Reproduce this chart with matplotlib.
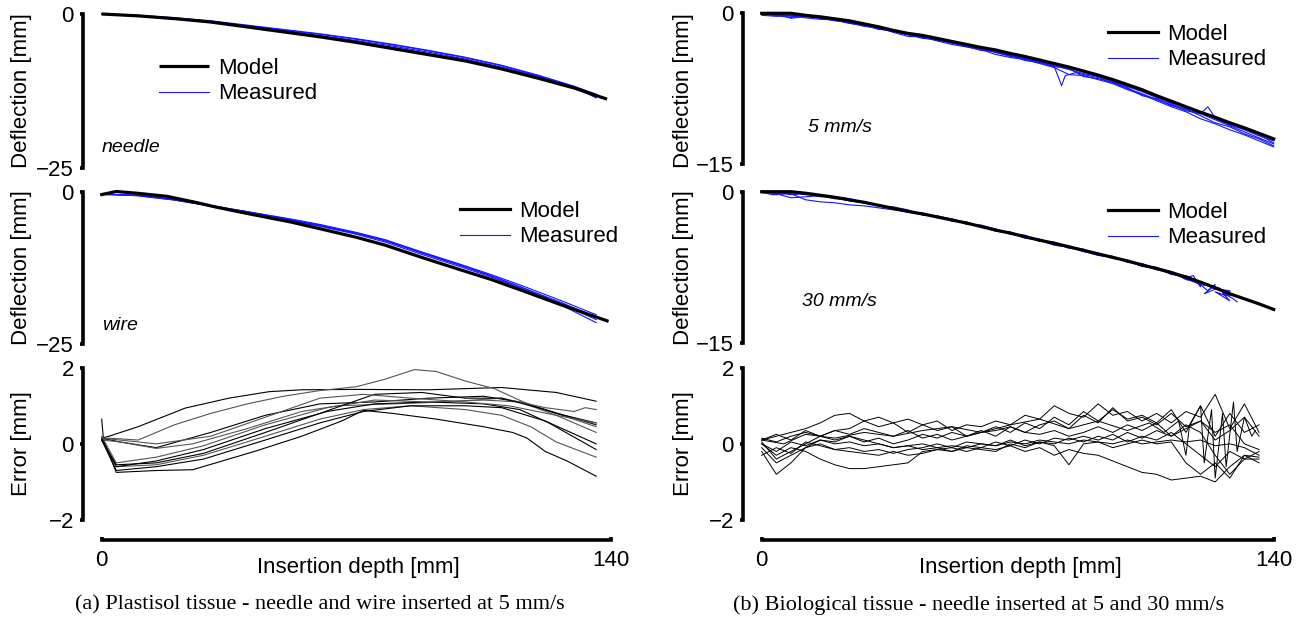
import numpy as np
import matplotlib
matplotlib.use("Agg")
import matplotlib.pyplot as plt

plt.rcParams["font.family"] = ["Liberation Sans", "DejaVu Sans"]

# ---------------------------------------------------------------
# data
# ---------------------------------------------------------------
# (a) plastisol, needle -- deflection [mm]
needle_model_x = [0, 10, 20, 30, 40, 50, 60, 70, 80, 90, 100, 110, 120, 130, 139]
needle_model_y = [0, -0.3, -0.75, -1.3, -2.1, -2.9, -3.7, -4.6, -5.6, -6.6, -7.6, -8.9, -10.4, -12.0, -13.8]
needle_meas_x = [0, 10, 20, 30, 40, 50, 60, 70, 80, 90, 100, 110, 120, 130, 136]
needle_meas_1 = [0, -0.2, -0.6, -1.1, -1.8, -2.5, -3.2, -4.0, -4.9, -5.9, -7.0, -8.3, -9.9, -11.7, -13.0]
needle_meas_2 = [0, -0.35, -0.8, -1.3, -2.0, -2.7, -3.5, -4.3, -5.2, -6.2, -7.3, -8.6, -10.1, -11.9, -13.3]
needle_meas_3 = [0, -0.3, -0.7, -1.2, -1.9, -2.6, -3.3, -4.1, -5.0, -6.0, -7.1, -8.4, -10.0, -11.8, -13.6]
needle_meas_4 = [0, -0.3, -0.75, -1.25, -2.0, -2.8, -3.6, -4.5, -5.4, -6.4, -7.5, -8.8, -10.3, -12.0, -13.5]

# (a) plastisol, wire -- deflection [mm]
wire_model_x = [0, 4, 10, 18, 26, 31, 40, 52, 60, 70, 78, 88, 99, 107, 115, 126, 139]
wire_model_y = [-0.5, 0, -0.3, -0.8, -1.8, -2.5, -3.6, -5.0, -6.1, -7.5, -8.8, -10.8, -12.9, -14.4, -16.1, -18.5, -21.2]
wire_meas_x = [0, 10, 20, 30, 40, 52, 60, 70, 78, 88, 99, 107, 115, 126, 136]
wire_meas_1 = [-0.5, -0.6, -1.3, -2.3, -3.3, -4.5, -5.4, -6.7, -7.9, -9.9, -12.0, -13.6, -15.3, -17.8, -20.2]
wire_meas_2 = [-0.4, -0.7, -1.4, -2.4, -3.4, -4.7, -5.6, -6.9, -8.1, -10.1, -12.2, -13.8, -15.6, -18.1, -20.6]
wire_meas_3 = [-0.5, -0.6, -1.3, -2.3, -3.3, -4.6, -5.5, -6.8, -8.0, -10.0, -12.1, -13.8, -15.6, -18.3, -21.0]
wire_meas_4 = [-0.4, -0.7, -1.4, -2.4, -3.5, -4.8, -5.7, -7.0, -8.3, -10.3, -12.4, -14.0, -15.8, -18.5, -21.5]

# (a) plastisol -- error [mm]
plast_err = [
    ([0, 2, 10, 23, 35, 46, 55, 70, 90, 110, 125, 136],
     [0.15, 0.2, 0.45, 0.94, 1.2, 1.37, 1.42, 1.43, 1.42, 1.48, 1.35, 1.12]),
    ([0, 2, 10, 20, 30, 40, 50, 60, 70, 78, 86, 92, 100, 108, 116, 125, 136],
     [0.1, 0.15, 0.1, 0.5, 0.8, 1.05, 1.25, 1.4, 1.5, 1.7, 1.95, 1.9, 1.65, 1.45, 1.1, 0.8, 0.45]),
    ([0, 5, 15, 30, 45, 60, 75, 90, 105, 115, 125, 136],
     [0.15, 0.05, -0.1, 0.3, 0.75, 1.05, 1.1, 1.2, 1.25, 1.1, 0.8, 0.55]),
    ([0, 5, 15, 25, 40, 55, 65, 80, 95, 110, 122, 130, 133, 136],
     [0.1, 0.05, -0.12, 0.0, 0.4, 0.85, 1.0, 1.05, 1.1, 1.2, 0.95, 0.85, 0.95, 0.9]),
    ([0, 0.5, 4, 15, 25, 42, 55, 66, 72, 80, 92, 105, 113, 117, 122, 128, 136],
     [0.65, 0.1, -0.75, -0.7, -0.68, -0.2, 0.2, 0.6, 0.88, 0.8, 0.65, 0.45, 0.3, 0.15, -0.2, -0.45, -0.85]),
    ([0, 4, 15, 28, 45, 60, 72, 85, 100, 110, 118, 125, 136],
     [0.1, -0.6, -0.55, -0.3, 0.2, 0.65, 0.9, 1.0, 0.9, 0.75, 0.45, 0.05, -0.35]),
    ([0, 4, 15, 28, 45, 62, 75, 90, 105, 115, 123, 136],
     [0.15, -0.6, -0.45, -0.15, 0.4, 0.85, 1.05, 1.1, 1.05, 0.9, 0.55, -0.15]),
    ([0, 4, 15, 28, 45, 62, 75, 90, 105, 115, 125, 136],
     [0.2, -0.5, -0.35, -0.05, 0.5, 0.95, 1.15, 1.1, 1.15, 1.1, 0.75, 0.3]),
    ([0, 4, 15, 28, 45, 60, 75, 88, 100, 110, 122, 136],
     [0.1, -0.55, -0.5, -0.25, 0.3, 0.8, 1.3, 1.35, 1.2, 1.2, 0.9, 0.5]),
    ([0, 5, 15, 30, 45, 60, 72, 85, 100, 112, 125, 136],
     [0.15, 0.1, 0.0, 0.2, 0.7, 1.2, 1.3, 1.2, 1.1, 1.0, 0.75, 0.55]),
    ([0, 4, 15, 28, 45, 60, 72, 85, 100, 110, 122, 136],
     [0.1, -0.7, -0.6, -0.4, 0.1, 0.55, 0.85, 1.0, 1.0, 0.95, 0.6, 0.0]),
]

# (b) biological -- sampling grid of depth [mm]
depth_140 = list(range(0, 141, 4))
depth_128 = list(range(0, 129, 4))
depth_136 = list(range(0, 137, 4))

# (b) 5 mm/s -- deflection [mm]
bio5_model = [0, 0, 0, -0.2, -0.35, -0.55, -0.75, -1.05, -1.35, -1.7, -2.0, -2.2, -2.5, -2.8, -3.1, -3.4,
              -3.65, -4.0, -4.3, -4.65, -5.0, -5.35, -5.75, -6.15, -6.6, -7.1, -7.6, -8.2, -8.75, -9.3,
              -9.85, -10.35, -10.9, -11.4, -11.95, -12.5]
bio5_meas_1 = [0.0, -0.1, -0.3, -0.35, -0.4, -0.7, -0.9, -1.1, -1.5, -1.8, -2.1, -2.4, -2.6, -3.0, -3.2, -3.5,
               -3.9, -4.2, -4.5, -4.8, -5.2, -5.6, -6.0, -6.3, -6.8, -7.3, -7.8, -8.4, -9.0, -9.6,
               -10.0, -10.6, -11.2, -11.8, -12.4, -13.0]
bio5_meas_2 = [-0.2, -0.3, -0.2, -0.45, -0.6, -0.65, -0.95, -1.3, -1.45, -1.9, -2.3, -2.35, -2.75, -3.1, -3.35, -3.6,
               -4.1, -4.4, -4.6, -5.0, -5.4, -6.1, -6.2, -6.6, -7.0, -7.6, -8.1, -8.7, -9.3, -9.8,
               -10.5, -11.0, -11.6, -12.1, -12.7, -13.3]
bio5_meas_3 = [-0.1, -0.05, -0.5, -0.3, -0.5, -0.55, -1.0, -1.2, -1.6, -1.7, -2.1, -2.5, -2.6, -2.9, -3.3, -3.7,
               -3.8, -4.2, -4.7, -4.9, -5.3, -5.5, -6.3, -6.5, -6.9, -7.4, -8.2, -8.5, -9.2, -9.5,
               -10.2, -10.9, -11.3, -12.0, -12.5, -13.2]
bio5_meas_4 = [0.0, -0.2, -0.2, -0.3, -0.45, -0.75, -0.85, -1.2, -1.4, -1.75, -2.0, -2.3, -2.55, -2.85, -3.15, -3.45,
               -3.75, -4.05, -4.45, -4.7, -5.15, -5.4, -5.85, -6.25, -6.7, -7.2, -7.7, -8.3, -8.9, -9.4,
               -9.8, -10.5, -11.1, -11.6, -12.2, -12.7]
bio5_meas_5_x = [0, 4, 8, 12, 16, 20, 24, 28, 32, 36, 40, 44, 48, 52, 56, 60, 64, 68, 72, 76, 80, 82, 83, 86, 88,
                 92, 96, 100, 104, 108, 112, 116, 120, 122, 124, 128, 132, 136, 140]
bio5_meas_5_y = [-0.1, -0.25, -0.4, -0.25, -0.5, -0.7, -1.0, -1.15, -1.55, -1.8, -2.15, -2.4, -2.7, -2.9, -3.3, -3.5,
                 -3.9, -4.3, -4.5, -4.9, -5.3, -7.2, -6.2, -5.9, -6.1, -6.4, -6.9, -7.5, -8.0, -8.6, -9.1, -9.7,
                 -10.0, -9.3, -10.4, -11.0, -11.5, -12.1, -12.9]

# (b) 30 mm/s -- deflection [mm]
bio30_model = [0, 0, 0, -0.15, -0.35, -0.55, -0.8, -1.05, -1.35, -1.65, -1.95, -2.2, -2.5, -2.8, -3.1, -3.45,
               -3.8, -4.1, -4.45, -4.8, -5.1, -5.45, -5.8, -6.15, -6.5, -6.85, -7.25, -7.6, -8.0, -8.45,
               -8.95, -9.5, -10.1, -10.6, -11.1, -11.65]
bio30_meas_1 = [0, -0.2, -0.6, -0.5, -0.4, -0.6, -0.9, -1.1, -1.3, -1.7, -2.0, -2.1, -2.6, -2.7, -3.2, -3.4, -3.9,
                -4.0, -4.5, -4.7, -5.2, -5.4, -5.9, -6.1, -6.6, -6.8, -7.4, -7.5, -8.1, -8.6, -9.2, -9.4, -10.3]
bio30_meas_2 = [0, -0.1, -0.2, -0.8, -1.0, -1.1, -1.3, -1.4, -1.6, -1.8, -2.0, -2.3, -2.4, -2.9, -3.0, -3.5, -3.7,
                -4.2, -4.4, -4.9, -5.0, -5.6, -5.7, -6.2, -6.4, -7.0, -7.1, -7.7, -7.9, -8.7, -9.0, -9.6, -9.9]
bio30_meas_3 = [-0.1, -0.3, -0.1, -0.2, -0.5, -0.5, -0.7, -1.1, -1.4, -1.5, -1.8, -2.3, -2.4, -2.7, -3.2, -3.3, -3.7,
                -4.2, -4.3, -4.9, -5.0, -5.5, -5.7, -6.3, -6.4, -6.9, -7.3, -7.5, -8.2, -8.3, -9.0, -9.6, -9.8]
bio30_meas_4 = [0, -0.1, -0.3, -0.2, -0.4, -0.7, -0.8, -1.0, -1.4, -1.6, -2.0, -2.2, -2.4, -2.9, -3.0, -3.5, -3.8,
                -4.0, -4.5, -4.7, -5.2, -5.4, -5.9, -6.2, -6.5, -6.9, -7.2, -7.7, -7.9, -8.5, -8.9, -9.6, -10.2]
bio30_meas_5_x = [0, 3, 6, 9, 12, 16, 20, 24, 28, 32, 36, 40, 44, 48, 52, 56, 60, 64, 68, 72, 76, 80, 84, 88, 92,
                  96, 100, 104, 108, 112, 116, 118, 120, 119, 122, 124, 121, 125, 127, 124, 128, 126, 129, 130]
bio30_meas_5_y = [0, -0.3, -0.2, -0.1, -0.3, -0.4, -0.6, -0.9, -1.1, -1.3, -1.6, -2.0, -2.2, -2.5, -2.7, -3.2, -3.4,
                  -3.9, -4.1, -4.6, -4.8, -5.3, -5.5, -5.9, -6.3, -6.5, -6.9, -7.3, -7.7, -8.1, -8.5, -8.3, -9.4,
                  -8.9, -9.8, -9.2, -10.1, -9.5, -10.3, -9.9, -10.8, -10.0, -10.6, -10.9]

# (b) biological -- error [mm] on depth_136
bio_err = [
    [0.1, 0.2, 0.3, 0.4, 0.55, 0.75, 0.8, 0.6, 0.7, 0.55, 0.65, 0.5, 0.6, 0.35, 0.5, 0.45, 0.6, 0.5, 0.75, 0.65,
     1.0, 0.8, 0.7, 1.05, 0.75, 0.85, 0.6, 0.8, 0.55, 0.85, 0.7, 1.3, 0.4, 1.05, 0.3],
    [0.0, -0.3, -0.1, -0.2, -0.4, -0.55, -0.65, -0.65, -0.6, -0.55, -0.5, -0.2, -0.15, -0.1, -0.2, -0.1, -0.15,
     -0.05, -0.2, -0.1, -0.3, -0.15, -0.25, -0.3, -0.45, -0.6, -0.75, -0.8, -0.95, -0.9, -0.85, -1.0, -0.6, -0.3, -0.5],
    [-0.2, -0.8, -0.5, -0.1, 0.1, 0.05, 0.2, 0.1, 0.0, -0.1, -0.05, -0.15, -0.1, -0.2, -0.05, -0.1, 0.05, -0.05,
     0.1, 0.0, 0.15, 0.1, 0.2, 0.1, 0.25, 0.05, 0.2, 0.1, 0.3, 0.0, -0.3, -0.6, -0.2, -0.4, -0.2],
    [0.15, 0.05, 0.2, 0.3, 0.2, 0.35, 0.4, 0.6, 0.45, 0.55, 0.3, 0.5, 0.35, 0.45, 0.2, 0.3, 0.35, 0.45, 0.3, 0.5,
     0.6, 0.4, 0.75, 0.55, 0.95, 0.6, 0.7, 0.5, 0.8, 0.45, 0.6, 0.3, 0.5, 0.0, -0.15],
    [-0.1, -0.5, -0.3, -0.1, 0.0, -0.15, -0.1, -0.2, -0.15, -0.25, -0.15, -0.1, 0.0, -0.1, 0.05, 0.0, -0.05, 0.1,
     -0.05, 0.05, 0.0, 0.15, 0.05, 0.2, 0.1, 0.3, 0.15, 0.35, 0.2, 0.5, 0.3, -0.3, -0.8, -0.4, -0.4],
    [0.1, 0.25, 0.1, 0.35, 0.2, 0.1, 0.2, 0.05, 0.15, 0.0, 0.1, 0.25, 0.15, 0.3, 0.2, 0.35, 0.2, 0.45, 0.3, 0.25,
     0.35, 0.2, 0.3, 0.45, 0.3, 0.5, 0.35, 0.55, 0.2, 0.4, 0.6, 0.1, 0.35, 0.7, 0.2],
    [0.0, -0.2, 0.05, -0.05, 0.1, 0.0, 0.05, -0.05, 0.0, -0.1, -0.05, 0.0, -0.1, -0.05, -0.1, 0.0, -0.05, 0.05,
     0.0, 0.1, 0.05, 0.0, 0.1, 0.05, 0.0, 0.1, 0.0, 0.05, 0.1, 0.05, 0.1, -0.05, 0.0, -0.1, -0.3],
    [0.05, -0.4, -0.2, 0.0, 0.2, 0.35, 0.25, 0.4, 0.3, 0.2, 0.35, 0.15, 0.25, 0.1, 0.2, 0.3, 0.45, 0.3, 0.55, 0.4,
     0.7, 0.5, 0.85, 0.6, 0.9, 0.65, 0.75, 0.55, 0.9, 0.3, 1.0, 0.2, 0.8, 0.3, 0.5],
    [-0.3, -0.1, -0.25, 0.05, -0.05, -0.15, -0.2, -0.25, -0.3, -0.2, -0.3, -0.25, -0.15, -0.2, -0.1, -0.15, -0.2,
     0.0, -0.1, 0.05, -0.05, -0.55, 0.0, 0.05, -0.1, 0.0, 0.1, 0.0, 0.05, -0.5, -0.8, -0.5, -0.9, -0.3, -0.35],
]
bio_err_scribble_x = [0, 6, 12, 20, 28, 36, 44, 52, 60, 68, 76, 84, 92, 100, 106, 110, 114, 116, 117, 120,
                      121, 123, 124, 126, 127, 129, 130, 132, 134, 135]
bio_err_scribble_y = [0.1, 0.0, 0.25, 0.15, 0.3, 0.2, 0.35, 0.45, 0.3, 0.5, 0.65, 0.4, 0.6, 0.35, 0.55, 0.3,
                      0.6, -0.3, 0.5, 1.0, -0.5, 0.9, -0.9, 0.8, -0.6, 1.1, -0.2, 0.7, 0.2, 0.35]

# ---------------------------------------------------------------
W, H = 1307, 623
BLUE = "#1414ff"
SPINE_W = 2.6
FS = 16

fig = plt.figure(figsize=(W / 100, H / 100), dpi=100)


def add_ax(left, top, right, bottom):
    # position given in picture pixels
    return fig.add_axes([left / W, 1 - bottom / H, (right - left) / W, (bottom - top) / H])


def style(ax, ylim, yticks, bottom_axis=False):
    ax.set_xlim(0, 140)
    ax.set_ylim(*ylim)
    ax.patch.set_visible(False)
    for s in ("top", "right"):
        ax.spines[s].set_visible(False)
    ax.spines["left"].set_position(("outward", 13.5))
    ax.spines["left"].set_linewidth(SPINE_W)
    ax.set_yticks(yticks)
    ax.tick_params(axis="y", direction="out", length=2.5, width=SPINE_W, labelsize=FS, pad=4)
    if bottom_axis:
        ax.spines["bottom"].set_position(("outward", 14.5))
        ax.spines["bottom"].set_linewidth(SPINE_W)
        ax.set_xticks([0, 140])
        ax.tick_params(axis="x", direction="in", length=2.5, width=SPINE_W, labelsize=FS, pad=7)
    else:
        ax.spines["bottom"].set_visible(False)
        ax.set_xticks([])


def ftext(x, y, s, **kw):
    fig.text(x / W, 1 - y / H, s, **kw)


def legend(ax, model_line, meas_line, x, y):
    ax.legend([model_line, meas_line], ["Model", "Measured"], loc="upper left",
              bbox_to_anchor=(x / W, 1 - y / H), bbox_transform=fig.transFigure,
              frameon=False, fontsize=FS, handlelength=2.25, handletextpad=0.4,
              labelspacing=0.2, borderpad=0, borderaxespad=0)


# ---------------- (a) plastisol ----------------
axL1 = add_ax(101.7, 14, 610.7, 168.3)
style(axL1, (-25, 0), [-25, 0])
for ys in (needle_meas_1, needle_meas_2, needle_meas_3, needle_meas_4):
    mL1, = axL1.plot(needle_meas_x, ys, color=BLUE, lw=0.8, clip_on=False)
ML1, = axL1.plot(needle_model_x, needle_model_y, color="black", lw=2.3, clip_on=False,
                 solid_capstyle="butt")
legend(axL1, ML1, mL1, 159, 58)
ftext(102, 148, "needle", fontsize=14, style="italic", va="center")

axL2 = add_ax(101.7, 191.5, 610.7, 344)
style(axL2, (-25, 0), [-25, 0])
for ys in (wire_meas_1, wire_meas_2, wire_meas_3, wire_meas_4):
    mL2, = axL2.plot(wire_meas_x, ys, color=BLUE, lw=0.8, clip_on=False)
ML2, = axL2.plot(wire_model_x, wire_model_y, color="black", lw=2.3, clip_on=False)
legend(axL2, ML2, mL2, 460, 201)
ftext(102, 325, "wire", fontsize=14, style="italic", va="center")

axL3 = add_ax(101.7, 367.7, 610.7, 520)
style(axL3, (-2, 2), [-2, 0, 2], bottom_axis=True)
for i, (xs, ys) in enumerate(plast_err):
    axL3.plot(xs, ys, color="black" if i % 2 == 0 else "#555555", lw=0.8, clip_on=False)

# ---------------- (b) biological ----------------
axR1 = add_ax(761.7, 13.3, 1273.7, 164)
style(axR1, (-15, 0), [-15, 0])
for ys in (bio5_meas_1, bio5_meas_2, bio5_meas_3, bio5_meas_4):
    mR1, = axR1.plot(depth_140, ys, color=BLUE, lw=0.8, clip_on=False)
axR1.plot(bio5_meas_5_x, bio5_meas_5_y, color=BLUE, lw=0.8, clip_on=False)
MR1, = axR1.plot(depth_140, bio5_model, color="black", lw=2.3, clip_on=False)
legend(axR1, MR1, mR1, 1108, 24)
ftext(808, 127, "5 mm/s", fontsize=14, style="italic", va="center")

axR2 = add_ax(761.7, 191.7, 1273.7, 343.3)
style(axR2, (-15, 0), [-15, 0])
for ys in (bio30_meas_1, bio30_meas_2, bio30_meas_3, bio30_meas_4):
    mR2, = axR2.plot(depth_128, ys, color=BLUE, lw=0.8, clip_on=False)
axR2.plot(bio30_meas_5_x, bio30_meas_5_y, color=BLUE, lw=0.8, clip_on=False)
MR2, = axR2.plot(depth_140, bio30_model, color="black", lw=2.3, clip_on=False)
legend(axR2, MR2, mR2, 1108, 202)
ftext(802, 301, "30 mm/s", fontsize=14, style="italic", va="center")

axR3 = add_ax(761.7, 367.7, 1273.7, 520)
style(axR3, (-2, 2), [-2, 0, 2], bottom_axis=True)
for ys in bio_err:
    axR3.plot(depth_136, ys, color="black", lw=0.7, clip_on=False)
axR3.plot(bio_err_scribble_x, bio_err_scribble_y, color="black", lw=0.7, clip_on=False)

# ---------------- labels ----------------
for x in (22, 683):
    ftext(x, 91, "Deflection [mm]", fontsize=FS, rotation=90, ha="center", va="center")
    ftext(x, 268, "Deflection [mm]", fontsize=FS, rotation=90, ha="center", va="center")
    ftext(x, 444, "Error [mm]", fontsize=FS, rotation=90, ha="center", va="center")

ftext(358, 567, "Insertion depth [mm]", fontsize=FS, ha="center", va="center")
ftext(1020, 567, "Insertion depth [mm]", fontsize=FS, ha="center", va="center")

cap = dict(fontsize=16, family=["Liberation Serif", "DejaVu Serif"], ha="center", va="center")
ftext(320, 605, "(a) Plastisol tissue - needle and wire inserted at 5 mm/s", **cap)
ftext(979, 605, "(b) Biological tissue - needle inserted at 5 and 30 mm/s", **cap)

fig.savefig("out.png", dpi=100)
